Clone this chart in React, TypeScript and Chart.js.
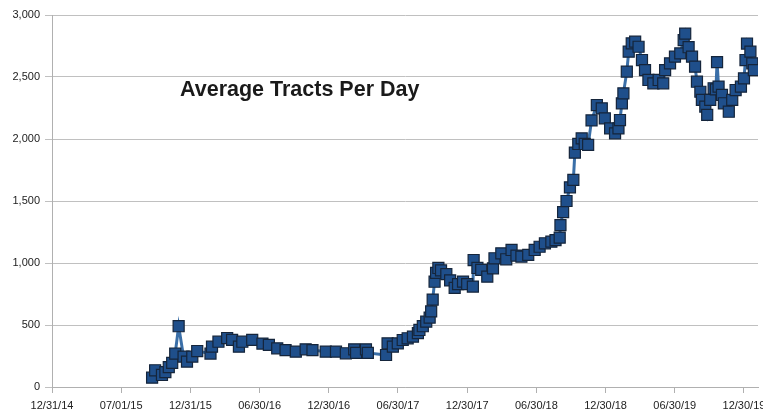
import React, { useEffect, useRef } from "react";
import { Chart, registerables } from "chart.js";

Chart.register(...registerables);

// Days elapsed since 12/31/2014 for each observation
const dayOffsets = [
  264, 272, 290, 299, 308, 317, 325, 334, 347, 356,
  370, 383, 418, 422, 439, 462, 475, 493, 502, 528,
  555, 572, 594, 616, 643, 669, 687, 722, 749, 775,
  797, 802, 828, 833, 881, 885, 899, 912, 925, 938,
  952, 965, 969, 978, 987, 996, 1000, 1004, 1009, 1013,
  1019, 1026, 1040, 1050, 1062, 1071, 1084, 1095, 1110, 1112,
  1122, 1132, 1148, 1163, 1167, 1185, 1198, 1212, 1225, 1238,
  1256, 1273, 1286, 1300, 1317, 1328, 1339, 1341, 1348, 1357,
  1366, 1375, 1379, 1388, 1397, 1405, 1414, 1423, 1437, 1450,
  1458, 1472, 1485, 1494, 1498, 1503, 1507, 1516, 1521, 1529,
  1538, 1547, 1556, 1564, 1573, 1586, 1600, 1612, 1617, 1630,
  1643, 1657, 1666, 1670, 1679, 1688, 1696, 1701, 1710, 1714,
  1723, 1728, 1736, 1745, 1751, 1754, 1758, 1767, 1772, 1785,
  1794, 1803, 1817, 1825, 1829, 1833, 1842, 1847, 1851,
];

// Average tracts per day
const tractsPerDay = [
  75, 135, 97, 120, 160, 195, 270, 490, 245, 205,
  245, 290, 270, 325, 365, 395, 380, 325, 365, 380,
  350, 340, 312, 298, 285, 304, 298, 285, 285, 272,
  304, 275, 304, 275, 258, 352, 325, 352, 379, 393,
  406, 435, 460, 490, 527, 560, 610, 705, 849, 920,
  960, 940, 910, 860, 800, 830, 850, 830, 810, 1024,
  960, 944, 890, 957, 1038, 1078, 1030, 1105, 1060, 1051,
  1065, 1105, 1131, 1159, 1172, 1185, 1205, 1306, 1410, 1500,
  1610, 1670, 1890, 1960, 2005, 1960, 1952, 2150, 2274, 2247,
  2167, 2086, 2046, 2086, 2153, 2288, 2368, 2543, 2704, 2771,
  2785, 2744, 2637, 2556, 2476, 2449, 2476, 2449, 2556, 2610,
  2664, 2690, 2798, 2850, 2740, 2664, 2583, 2462, 2381, 2315,
  2261, 2194, 2315, 2409, 2400, 2620, 2422, 2355, 2288, 2220,
  2315, 2395, 2422, 2489, 2637, 2770, 2704, 2610, 2556,
];

const xTickLabels = [
  "12/31/14", "07/01/15", "12/31/15", "06/30/16", "12/30/16", "06/30/17",
  "12/30/17", "06/30/18", "12/30/18", "06/30/19", "12/30/19",
];
const xTickStepDays = 182.5;
const xMaxDays = 1862;
const yTickValues = [0, 500, 1000, 1500, 2000, 2500, 3000];
const chartTitle = "Average Tracts Per Day";

const FONT = "'Liberation Sans', Arial, sans-serif";

export default function App() {
  const ref = useRef<HTMLCanvasElement>(null);

  useEffect(() => {
    const canvas = ref.current;
    if (!canvas) return;

    const insideTitle = {
      id: "insideTitle",
      afterDraw(chart: any) {
        const ctx = chart.ctx;
        ctx.save();
        ctx.font = `bold 21.5px ${FONT}`;
        ctx.fillStyle = "#1a1a1a";
        ctx.textAlign = "left";
        ctx.textBaseline = "alphabetic";
        ctx.fillText(chartTitle, 180, 96);
        ctx.restore();
      },
    };

    const chart = new Chart(canvas, {
      type: "line",
      data: {
        datasets: [
          {
            data: dayOffsets.map((d, i) => ({ x: d, y: tractsPerDay[i] })),
            borderColor: "#3a6fa8",
            borderWidth: 3,
            pointStyle: "rect",
            pointRadius: 7.8,
            pointBackgroundColor: "#1f4f8b",
            pointBorderColor: "#15253b",
            pointBorderWidth: 1.2,
            tension: 0,
          },
        ],
      },
      options: {
        responsive: false,
        animation: false,
        devicePixelRatio: 1,
        layout: { padding: { top: 15, right: 42, bottom: 0, left: 0 } },
        plugins: {
          legend: { display: false },
          tooltip: { enabled: false },
        },
        scales: {
          x: {
            type: "linear",
            min: 0,
            max: xMaxDays,
            afterBuildTicks: (s: any) => {
              s.ticks = xTickLabels.map((_, i) => ({ value: i * xTickStepDays }));
            },
            afterFit: (s: any) => {
              s.height = 28;
            },
            grid: {
              drawOnChartArea: false,
              drawTicks: true,
              tickLength: 6,
              color: "#b0b0b0",
            },
            border: { color: "#b0b0b0" },
            ticks: {
              autoSkip: false,
              maxRotation: 0,
              padding: 6,
              color: "#222",
              font: { family: FONT, size: 11 },
              callback: (_v: any, i: number) => xTickLabels[i],
            },
          },
          y: {
            min: 0,
            max: 3000,
            afterBuildTicks: (s: any) => {
              s.ticks = yTickValues.map((v) => ({ value: v }));
            },
            afterFit: (s: any) => {
              s.width = 52;
            },
            grid: { color: "#c0c0c0", tickLength: 7 },
            border: { color: "#b0b0b0" },
            ticks: {
              padding: 5,
              color: "#222",
              font: { family: FONT, size: 11 },
              callback: (v: any) => Number(v).toLocaleString("en-US"),
            },
          },
        },
      },
      plugins: [insideTitle],
    });

    return () => chart.destroy();
  }, []);

  return (
    <div
      style={{
        position: "fixed",
        left: 0,
        top: 0,
        width: 763,
        height: 415,
        overflow: "hidden",
        background: "#fff",
      }}
    >
      <canvas ref={ref} width={800} height={415} style={{ display: "block" }} />
    </div>
  );
}
